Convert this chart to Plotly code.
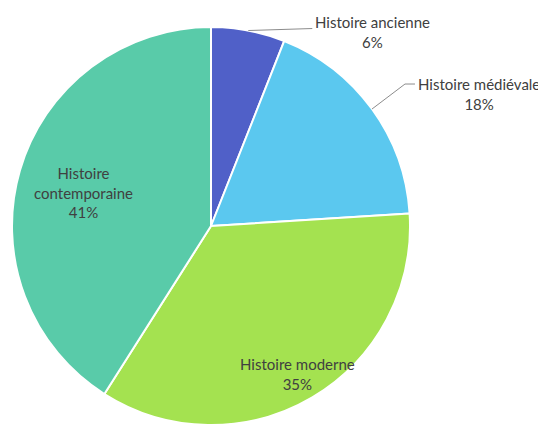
import math
import plotly.graph_objects as go

labels = ["Histoire ancienne", "Histoire médiévale", "Histoire moderne", "Histoire contemporaine"]
values = [6, 18, 35, 41]
colors = ["#5060c8", "#5bc8ef", "#a4e250", "#59cba9"]
label_text = ["Histoire ancienne", "Histoire médiévale", "Histoire moderne", "Histoire<br>contemporaine"]

OFF = 8  # page body margin
W, H = 538, 418
ML, MT = 4, 19
PW = PH = 398
MR = W - ML - PW
MB = H - MT - PH

def to_paper(px, py):
    return (px - OFF - ML) / PW, 1 - (py - OFF - MT) / PH

def to_px(xp, yp):
    return OFF + ML + xp * PW, OFF + MT + (1 - yp) * PH

total = sum(values)
mids = []
acc = 0
for v in values:
    mids.append((acc + v / 2) / total * 2 * math.pi)
    acc += v

def polar(frac_r, ang):
    return 0.5 + 0.5 * frac_r * math.sin(ang), 0.5 + 0.5 * frac_r * math.cos(ang)

fig = go.Figure(go.Pie(
    labels=labels, values=values, sort=False, direction="clockwise", rotation=0,
    marker=dict(colors=colors, line=dict(color="white", width=2)),
    textinfo="none", hoverinfo="label+percent", showlegend=False,
    domain=dict(x=[0, 1], y=[0, 1]),
))

font = dict(family="Lato, 'Open Sans', sans-serif", size=15, color="#404040")
pct = [f"{round(v / total * 100)}%" for v in values]
annotations = []
shapes = []

leader = {0: [(64, -2)], 1: [(33, -25), (43, -25)]}
text_off = {0: (1, 3), 1: (1, 9.5)}
for i in (0, 1):
    ex, ey = to_px(*polar(1.0, mids[i]))
    pts = [(ex, ey)] + [(ex + dx, ey + dy) for dx, dy in leader[i]]
    path = "M " + " L ".join(f"{to_paper(x, y)[0]},{to_paper(x, y)[1]}" for x, y in pts)
    shapes.append(dict(type="path", path=path, xref="paper", yref="paper",
                       line=dict(color="#8c8c8c", width=1)))
    lx, ly = pts[-1]
    tx, ty = to_paper(lx + text_off[i][0], ly + text_off[i][1])
    annotations.append(dict(x=tx, y=ty, xref="paper", yref="paper", xanchor="left",
                            yanchor="middle", align="center", showarrow=False,
                            text=f"{label_text[i]}<br>{pct[i]}", font=font))

inside_r = {2: 0.87, 3: 0.66}
inside_shift = {2: (-2, -1), 3: (-1, 3)}
for i in (2, 3):
    px, py = to_px(*polar(inside_r[i], mids[i]))
    xp, yp = to_paper(px + inside_shift[i][0], py + inside_shift[i][1])
    annotations.append(dict(x=xp, y=yp, xref="paper", yref="paper", xanchor="center",
                            yanchor="middle", align="center", showarrow=False,
                            text=f"{label_text[i]}<br>{pct[i]}", font=font))

fig.update_layout(
    width=W, height=H, margin=dict(l=ML, r=MR, t=MT, b=MB),
    paper_bgcolor="white", plot_bgcolor="white",
    annotations=annotations, shapes=shapes,
)
fig.write_html("out.html")
